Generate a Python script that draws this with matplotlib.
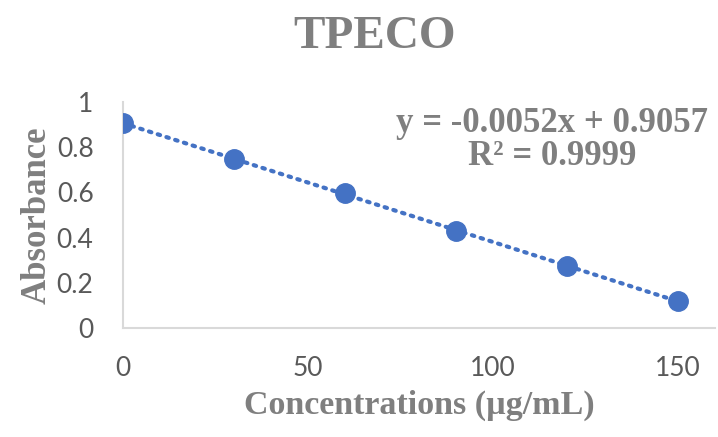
import numpy as np
import matplotlib.pyplot as plt

# datos
conc = [0, 30, 60, 90, 120, 150]
absorb = [0.906, 0.747, 0.596, 0.430, 0.274, 0.120]
eq_text = "y = -0.0052x + 0.9057\nR² = 0.9999"

blue = '#4472C4'
gray = '#7F7F7F'
tick_gray = '#595959'
serif = 'Liberation Serif'

fig = plt.figure(figsize=(7.18, 4.37), dpi=100)
ax = fig.add_axes([0.171, 0.249, 0.825, 0.518])

# linea de tendencia (ajuste lineal)
m, b = np.polyfit(conc, absorb, 1)
xt = np.array([conc[0], conc[-1]])
ax.plot(xt, m * xt + b, linestyle=(0, (0.6, 1.6)), color=blue, lw=3,
        dash_capstyle='round', zorder=2)
ax.plot(conc, absorb, 'o', color=blue, markersize=14, zorder=3)

ax.set_xlim(0, 160)
ax.set_ylim(0, 1)
ax.set_xticks([0, 50, 100, 150])
ax.set_yticks([0, 0.2, 0.4, 0.6, 0.8, 1])
ax.set_yticklabels(['0', '0.2', '0.4', '0.6', '0.8', '1'])
ax.tick_params(length=0, labelsize=19, labelcolor=tick_gray)
ax.tick_params(axis='x', pad=20)
ax.tick_params(axis='y', pad=21)
for lab in ax.get_xticklabels() + ax.get_yticklabels():
    lab.set_family('Lato')

for s in ['top', 'right']:
    ax.spines[s].set_visible(False)
for s in ['left', 'bottom']:
    ax.spines[s].set_color('#D9D9D9')
    ax.spines[s].set_linewidth(1.5)

ax.set_xlabel('Concentrations (µg/mL)', family=serif, fontweight='bold',
              fontsize=24.5, color=gray, labelpad=6)
ax.set_ylabel('Absorbance', family=serif, fontweight='bold',
              fontsize=25, color=gray, labelpad=2)
fig.text(0.522, 0.915, 'TPECO', family=serif, fontweight='bold',
         fontsize=34, color=gray, ha='center', va='center')
ax.text(0.725, 0.83, eq_text, transform=ax.transAxes, family=serif,
        fontweight='bold', fontsize=25, color=gray, ha='center', va='center',
        linespacing=1.0)

fig.savefig('out.png', dpi=100)
